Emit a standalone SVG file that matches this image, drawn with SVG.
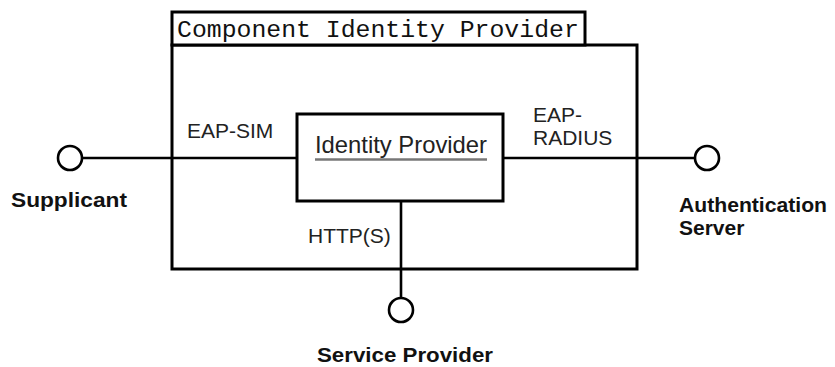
<svg xmlns="http://www.w3.org/2000/svg" width="835" height="367" viewBox="0 0 835 367">
  <style>
    .box { fill: #ffffff; stroke: #000000; stroke-width: 3; }
    .wire { fill: none; stroke: #000000; stroke-width: 2.6; }
    .port { fill: #ffffff; stroke: #000000; stroke-width: 2.6; }
    .proto { font-family: "Liberation Sans", Arial, sans-serif; font-size: 21px; fill: #222222; }
    .actor { font-family: "Liberation Sans", Arial, sans-serif; font-size: 21px; font-weight: bold; fill: #111111; }
    .title { font-family: "Liberation Mono", "Courier New", monospace; font-size: 24.8px; fill: #111111; }
    .inner { font-family: "Liberation Sans", Arial, sans-serif; font-size: 24px; fill: #222222; }
  </style>
  <rect width="835" height="367" fill="#ffffff"/>

  <!-- component boundary with its name tab -->
  <g id="component">
    <rect class="box" x="172" y="45" width="465" height="224"/>
    <rect class="box" x="172" y="12" width="413" height="33"/>
    <text class="title" x="177" y="37">Component Identity Provider</text>
  </g>

  <!-- links from the inner part out to the ports -->
  <g id="connectors">
    <line class="wire" x1="83" y1="158" x2="297" y2="158"/>
    <line class="wire" x1="503" y1="158" x2="694" y2="158"/>
    <line class="wire" x1="401" y1="201" x2="401" y2="297"/>
    <text class="proto" x="187" y="138">EAP-SIM</text>
    <text class="proto" x="533" y="122">EAP-</text>
    <text class="proto" x="533" y="145">RADIUS</text>
    <text class="proto" x="308" y="243">HTTP(S)</text>
  </g>

  <g id="identity-provider">
    <rect class="box" x="297" y="114" width="206" height="87"/>
    <text class="inner" x="315" y="153" textLength="172" lengthAdjust="spacingAndGlyphs">Identity Provider</text>
    <line x1="315" y1="159.5" x2="487" y2="159.5" stroke="#777777" stroke-width="2.5"/>
  </g>

  <g id="supplicant">
    <circle class="port" cx="70" cy="158" r="12"/>
    <text class="actor" x="69" y="207" text-anchor="middle" textLength="116" lengthAdjust="spacingAndGlyphs">Supplicant</text>
  </g>

  <g id="authentication-server">
    <circle class="port" cx="707" cy="158" r="12"/>
    <text class="actor" x="679" y="212" textLength="148" lengthAdjust="spacingAndGlyphs">Authentication</text>
    <text class="actor" x="679" y="235">Server</text>
  </g>

  <g id="service-provider">
    <circle class="port" cx="401" cy="310" r="12"/>
    <text class="actor" x="317" y="362" textLength="176" lengthAdjust="spacingAndGlyphs">Service Provider</text>
  </g>
</svg>
